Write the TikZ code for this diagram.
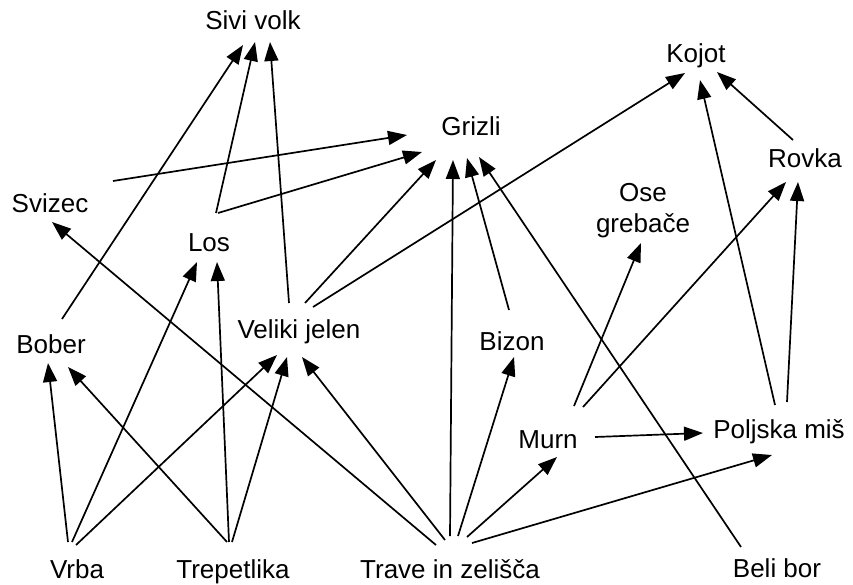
\documentclass[tikz,border=0pt]{standalone}
\usepackage{fontspec}
\setmainfont{Liberation Sans}
\usetikzlibrary{arrows.meta}
\tikzset{
  lbl/.style={font=\fontsize{26}{31}\selectfont, inner sep=0pt, anchor=base},
  arr/.style={line width=1.7pt, -{Triangle[length=19pt,width=14pt]}}
}
\begin{document}
\begin{tikzpicture}[x=1pt,y=-1pt]
\fill[white] (0,0) rectangle (853,584);
\useasboundingbox (0,0) rectangle (853,584);
% nodes
\node[lbl] (volk) at (253,29) {Sivi volk};
\node[lbl] (kojot) at (696,62) {Kojot};
\node[lbl] (grizli) at (471,135) {Grizli};
\node[lbl] (rovka) at (805,167) {Rovka};
\node[lbl, anchor=center, align=center] (ose) at (643,211) {Ose\\grebače};
\node[lbl] (svizec) at (50,212) {Svizec};
\node[lbl] (los) at (209,251) {Los};
\node[lbl] (bober) at (51,353) {Bober};
\node[lbl] (jelen) at (299,338) {Veliki jelen};
\node[lbl] (bizon) at (512,350) {Bizon};
\node[lbl] (murn) at (548,448) {Murn};
\node[lbl] (polj) at (779,438) {Poljska miš};
\node[lbl] (vrba) at (77,578) {Vrba};
\node[lbl] (trep) at (233,578) {Trepetlika};
\node[lbl] (trave) at (450,578) {Trave in zelišča};
\node[lbl] (bor) at (777,577) {Beli bor};
% edges
\draw[arr] ([shift={(11,-34)}]bober.base) -- ([shift={(-10,16)}]volk.base);
\draw[arr] ([shift={(7,-38)}]los.base) -- ([shift={(2,13)}]volk.base);
\draw[arr] ([shift={(-10,-35)}]jelen.base) -- ([shift={(17,13)}]volk.base);
\draw[arr] ([shift={(63,-31)}]svizec.base) -- ([shift={(-64,0)}]grizli.base);
\draw[arr] ([shift={(9,-38)}]los.base) -- ([shift={(-49,17)}]grizli.base);
\draw[arr] ([shift={(6,-35)}]jelen.base) -- ([shift={(-35,25)}]grizli.base);
\draw[arr] ([shift={(14,-31)}]jelen.base) -- ([shift={(-11,11)}]kojot.base);
\draw[arr] ([shift={(0,-42)}]trave.base) -- ([shift={(-18,25)}]grizli.base);
\draw[arr] ([shift={(-3,-40)}]bizon.base) -- ([shift={(-4,23)}]grizli.base);
\draw[arr] ([shift={(-36,-30)}]bor.base) -- ([shift={(8,22)}]grizli.base);
\draw[arr] ([shift={(-12,-27)}]rovka.base) -- ([shift={(21,10)}]kojot.base);
\draw[arr] ([shift={(-4,-33)}]polj.base) -- ([shift={(4,18)}]kojot.base);
\draw[arr] ([shift={(8,-36)}]polj.base) -- ([shift={(-7,15)}]rovka.base);
\draw[arr] ([shift={(35,-41)}]murn.base) -- ([shift={(-19,15)}]rovka.base);
\draw[arr] ([shift={(26,-42)}]murn.base) -- ([shift={(-2,32)}]ose.center);
\draw[arr] ([shift={(47,-11)}]murn.base) -- ([shift={(-76,-5)}]polj.base);
\draw[arr] ([shift={(17,-41)}]trave.base) -- ([shift={(9,9)}]murn.base);
\draw[arr] ([shift={(22,-35)}]trave.base) -- ([shift={(-7,17)}]polj.base);
\draw[arr] ([shift={(8,-42)}]trave.base) -- ([shift={(2,7)}]bizon.base);
\draw[arr] ([shift={(-14,-33)}]trave.base) -- ([shift={(2,10)}]svizec.base);
\draw[arr] ([shift={(-5,-38)}]trave.base) -- ([shift={(3,19)}]jelen.base);
\draw[arr] ([shift={(-9,-36)}]vrba.base) -- ([shift={(-3,10)}]bober.base);
\draw[arr] ([shift={(-5,-36)}]vrba.base) -- ([shift={(-12,11)}]los.base);
\draw[arr] ([shift={(-1,-33)}]vrba.base) -- ([shift={(-22,17)}]jelen.base);
\draw[arr] ([shift={(-6,-36)}]trep.base) -- ([shift={(17,14)}]bober.base);
\draw[arr] ([shift={(-4,-36)}]trep.base) -- ([shift={(8,11)}]los.base);
\draw[arr] ([shift={(-1,-36)}]trep.base) -- ([shift={(-12,19)}]jelen.base);
\end{tikzpicture}
\end{document}
